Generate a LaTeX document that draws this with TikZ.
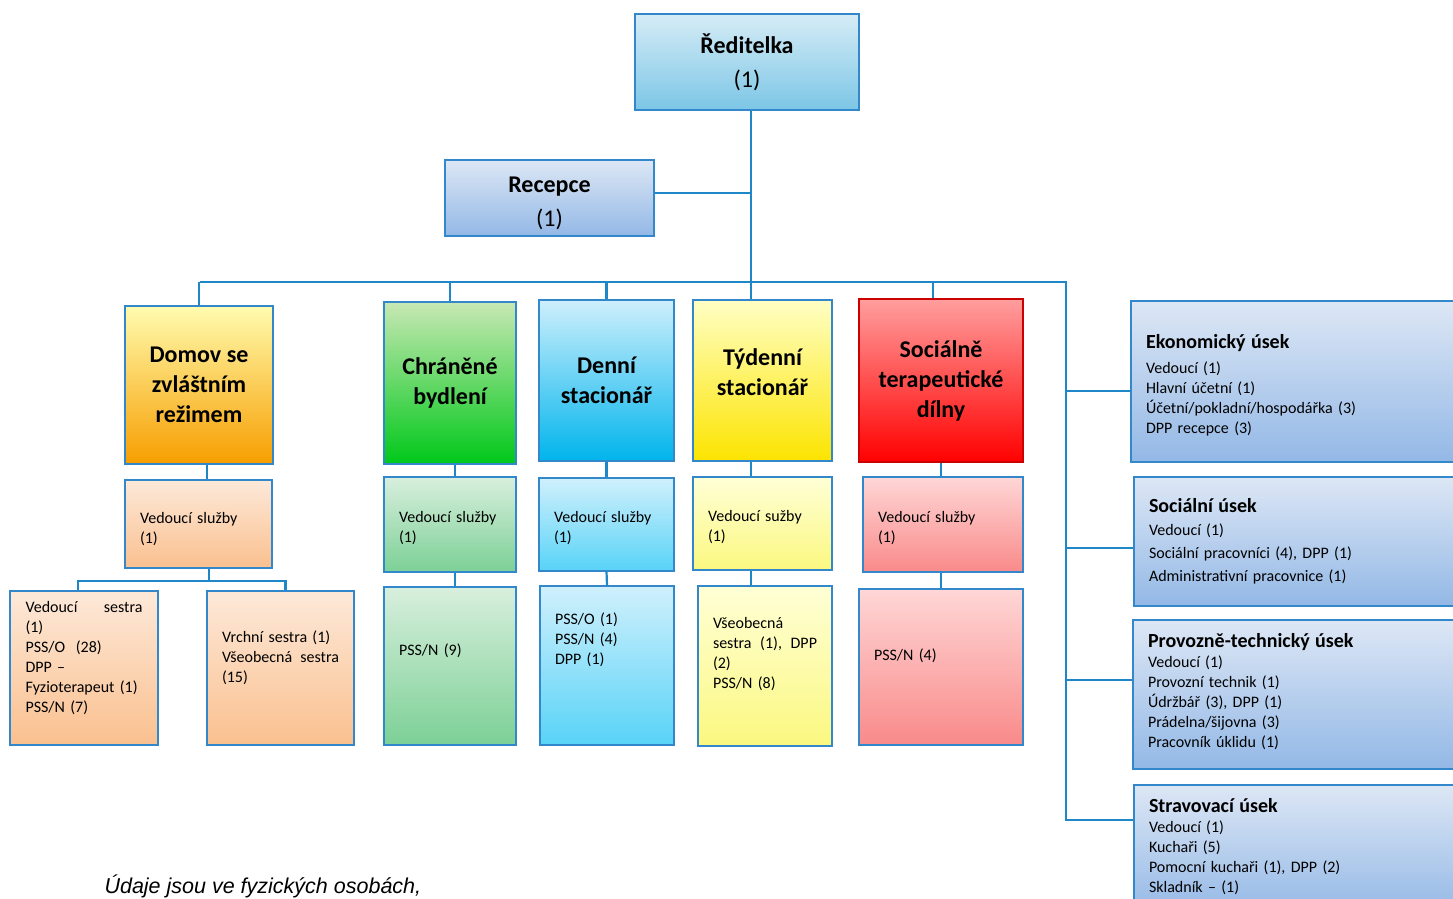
\documentclass[tikz,border=0pt]{standalone}
\usepackage{fontspec}
\setmainfont{Carlito}
\newfontfamily\notefont{Liberation Sans}
\definecolor{linkblue}{HTML}{1E87C8}
\definecolor{edgeblue}{HTML}{3388CC}
\definecolor{unittop}{HTML}{DDE7F5}
\definecolor{unitbot}{HTML}{93B8E6}
\newcommand\unithead{\bfseries\fontsize{20}{25}\selectfont}
\newcommand\padabove[1]{\rule{0pt}{#1}}
\newcommand\padbelow[1]{\rule[-#1]{0pt}{#1}}

\begin{document}
\begin{tikzpicture}[x=1pt,y=-1pt,
   box/.style={draw=edgeblue, line width=1.2pt, inner sep=0pt, align=center},
   link/.style={draw=linkblue, line width=2.2pt},
   topbox/.style={box, font=\fontsize{24}{34}\selectfont},
   hdr/.style={box, font=\bfseries\fontsize{24}{30}\selectfont},
   staff/.style={box, align=left, font=\fontsize{16}{20}\selectfont},
   unit/.style={box, align=left, top color=unittop, bottom color=unitbot,
                font=\fontsize{16}{20}\selectfont}]
\useasboundingbox (0,0) rectangle (1453,899);
%
\node [topbox, top color={rgb,255:red,214;green,236;blue,246}, bottom color={rgb,255:red,124;green,198;blue,230},
       minimum width=224, minimum height=96] at (747,62) (red) {\textbf{Ředitelka}\\(1)};
\node [topbox, top color=unittop, bottom color=unitbot,
       minimum width=209, minimum height=76] at (549.5,198) (rec) {\padabove{26pt}\textbf{Recepce}\\(1)};
%
\node [hdr, top color={rgb,255:red,255;green,252;blue,175}, middle color={rgb,255:red,255;green,208;blue,0}, bottom color={rgb,255:red,247;green,158;blue,0},
       minimum width=148, minimum height=158] at (199,385) (dzr) {Domov se\\zvláštním\\režimem};
\node [hdr, top color={rgb,255:red,200;green,232;blue,180}, middle color={rgb,255:red,96;green,212;blue,88}, bottom color={rgb,255:red,0;green,200;blue,26},
       minimum width=132, minimum height=162] at (450,383) (chb) {Chráněné\\bydlení};
\node [hdr, top color={rgb,255:red,206;green,239;blue,252}, middle color={rgb,255:red,120;green,220;blue,250}, bottom color={rgb,255:red,0;green,180;blue,236},
       minimum width=135, minimum height=161] at (606.5,380.5) (dst) {Denní\\stacionář};
\node [hdr, top color={rgb,255:red,255;green,255;blue,196}, middle color={rgb,255:red,255;green,234;blue,0}, bottom color={rgb,255:red,252;green,228;blue,0},
       minimum width=139, minimum height=161] at (762.5,380.5) (tst) {Týdenní\\stacionář\padbelow{16pt}};
\node [hdr, draw=red!80!black, top color={rgb,255:red,255;green,158;blue,158}, middle color={rgb,255:red,255;green,90;blue,90}, bottom color={rgb,255:red,255;green,0;blue,0},
       minimum width=164, minimum height=163] at (941,380.5) (std) {Sociálně\\terapeutické\\dílny};
%
\node [staff, top color={rgb,255:red,253;green,233;blue,217}, bottom color={rgb,255:red,250;green,192;blue,143}, text width=117,
       minimum width=147, minimum height=88] at (198.5,524) (dzrv) {\padabove{22pt}Vedoucí služby\\(1)};
\node [staff, top color={rgb,255:red,216;green,239;blue,221}, bottom color={rgb,255:red,124;green,208;blue,150}, text width=102,
       minimum width=132, minimum height=95] at (450,524.5) (chbv) {\padabove{19pt}Vedoucí služby\\(1)};
\node [staff, top color={rgb,255:red,208;green,240;blue,252}, bottom color={rgb,255:red,88;green,211;blue,247}, text width=105,
       minimum width=135, minimum height=93] at (606.5,524.5) (dstv) {\padabove{19pt}Vedoucí služby\\(1)};
\node [staff, top color={rgb,255:red,255;green,255;blue,214}, bottom color={rgb,255:red,251;green,248;blue,128}, text width=109,
       minimum width=139, minimum height=93] at (762.5,523.5) (tstv) {\padabove{19pt}Vedoucí sužby\\(1)};
\node [staff, top color={rgb,255:red,255;green,214;blue,214}, bottom color={rgb,255:red,249;green,138;blue,138}, text width=130,
       minimum width=160, minimum height=95] at (943,524.5) (stdv) {\padabove{19pt}Vedoucí služby\\(1)};
%
\node [staff, top color={rgb,255:red,253;green,233;blue,217}, bottom color={rgb,255:red,250;green,192;blue,143}, text width=117,
       minimum width=148, minimum height=154] at (84,668) (dzrl)
       {Vedoucí\hfill sestra\\(1)\\PSS/O~~(28)\\DPP --\\Fyzioterapeut (1)\\PSS/N (7)\padbelow{22pt}};
\node [staff, top color={rgb,255:red,253;green,233;blue,217}, bottom color={rgb,255:red,250;green,192;blue,143}, text width=117,
       minimum width=147, minimum height=154] at (280.5,668) (dzrp)
       {Vrchní sestra (1)\\Všeobecná\hfill sestra\\(15)\padbelow{22pt}};
\node [staff, top color={rgb,255:red,216;green,239;blue,221}, bottom color={rgb,255:red,124;green,208;blue,150}, text width=102,
       minimum width=132, minimum height=158] at (450,666) (chbp) {PSS/N (9)\padbelow{32pt}};
\node [staff, top color={rgb,255:red,208;green,240;blue,252}, bottom color={rgb,255:red,88;green,211;blue,247}, text width=104,
       minimum width=134, minimum height=159] at (607,665.5) (dstp) {PSS/O (1)\\PSS/N (4)\\DPP (1)\padbelow{54pt}};
\node [staff, top color={rgb,255:red,255;green,255;blue,214}, bottom color={rgb,255:red,251;green,248;blue,128}, text width=104,
       minimum width=134, minimum height=160] at (765,666) (tstp)
       {Všeobecná\\sestra\hfill(1),\hfill DPP\\(2)\\PSS/N (8)\padbelow{26pt}};
\node [staff, top color={rgb,255:red,255;green,214;blue,214}, bottom color={rgb,255:red,249;green,138;blue,138}, text width=134,
       minimum width=164, minimum height=156] at (941,667) (stdp) {PSS/N (4)\padbelow{24pt}};
%
\node [unit, text width=314, minimum width=344, minimum height=161] at (1303,381.5) (eko)
       {{\unithead\padabove{21pt}Ekonomický úsek}\\[5pt]Vedoucí (1)\\Hlavní účetní (1)\\Účetní/pokladní/hospodářka (3)\\DPP recepce (3)};
\node [unit, text width=311, minimum width=341, minimum height=129, font=\fontsize{16}{23}\selectfont] at (1304.5,541.5) (soc)
       {{\unithead Sociální úsek}\\Vedoucí (1)\\Sociální pracovníci (4), DPP (1)\\Administrativní pracovnice (1)};
\node [unit, text width=312, minimum width=342, minimum height=149] at (1304,694.5) (pro)
       {{\unithead Provozně-technický úsek}\\Vedoucí (1)\\Provozní technik (1)\\Údržbář (3), DPP (1)\\Prádelna/šijovna (3)\\Pracovník úklidu (1)\padbelow{8pt}};
\node [unit, text width=311, minimum width=341, minimum height=130] at (1304.5,850) (str)
       {{\unithead Stravovací úsek}\\Vedoucí (1)\\Kuchaři (5)\\Pomocní kuchaři (1), DPP (2)\\Skladník -- (1)\padbelow{10pt}};
%
\node [anchor=west, font=\notefont\itshape\fontsize{21.5}{24}\selectfont] at (101,886) (note) {Údaje jsou ve fyzických osobách,};
%
\coordinate (bus) at (751,282);
\coordinate (busl) at (200,282);
\coordinate (busr) at (1066,282);
\coordinate (recin) at (654,193);
\coordinate (dzrfork) at (209,581);
\coordinate (ekoin) at (1131,391);
\coordinate (socin) at (1134,548);
\coordinate (proin) at (1133,680);
\coordinate (strin) at (1134,820);
%
\draw[link] (red.south -| bus) -- (bus);
\draw[link, line width=1.6pt] (rec.east |- recin) -- (recin -| bus);
\draw[link] (busl) -- (busr) -- (busr |- strin) -- (str.west |- strin);
\draw[link] (dzr.north) -- (dzr.north |- busl);
\draw[link] (chb.north) -- (chb.north |- busl);
\draw[link] (dst.north) -- (dst.north |- busl);
\draw[link] (tst.north -| bus) -- (bus);
\draw[link] ([xshift=-8pt]std.north) -- ([xshift=-8pt]std.north |- busl);
\draw[link] (busr |- ekoin) -- (eko.west |- ekoin);
\draw[link] (busr |- socin) -- (soc.west |- socin);
\draw[link] (busr |- proin) -- (pro.west |- proin);
%
\draw[link] ([xshift=8pt]dzr.south) -- ([xshift=8pt]dzr.south |- dzrv.north);
\draw[link] ([xshift=5pt]chb.south) -- ([xshift=5pt]chbv.north);
\draw[link] (dst.south) -- (dstv.north);
\draw[link] (tst.south -| bus) -- (tstv.north -| bus);
\draw[link] (std.south) -- (std.south |- stdv.north);
%
\draw[link] (dzrv.south -| dzrfork) -- (dzrfork);
\draw[link] ([xshift=-6pt]dzrl.north) |- (dzrfork) -| ([xshift=5pt]dzrp.north);
\draw[link] ([xshift=5pt]chbv.south) -- ([xshift=5pt]chbp.north);
\draw[link] (dstv.south) -- (dstp.north);
\draw[link] (tstv.south -| bus) -- (tstp.north -| bus);
\draw[link] (stdv.south -| std.south) -- (stdp.north);
\end{tikzpicture}
\end{document}
